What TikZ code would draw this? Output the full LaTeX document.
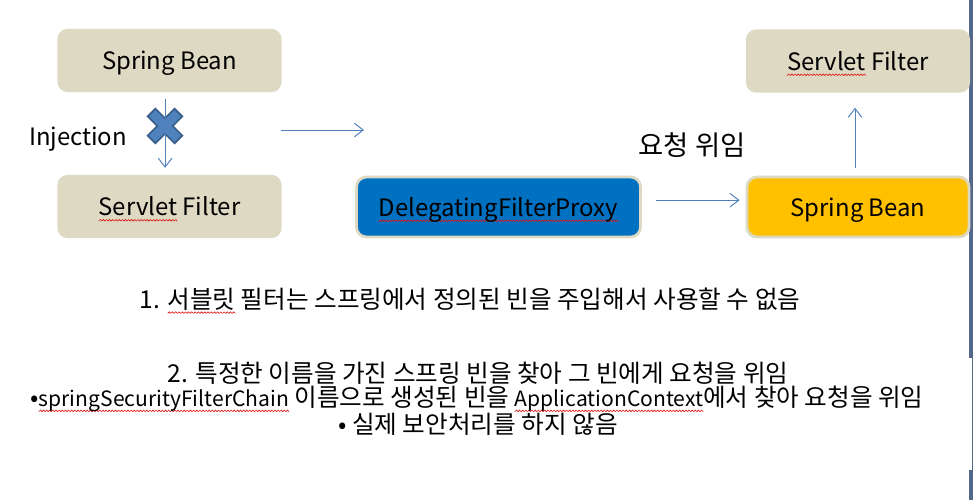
\documentclass[tikz,border=0pt]{standalone}
\usepackage{fontspec}
\setmainfont{Noto Sans CJK KR}
\usepackage{xcolor}
\usepackage{tikz}
\usetikzlibrary{arrows.meta, positioning}

\definecolor{boxtan}{RGB}{221,217,195}
\definecolor{proxyblue}{RGB}{0,112,192}
\definecolor{beanamber}{RGB}{255,192,0}
\definecolor{arrowblue}{RGB}{79,129,189}
\definecolor{crossblue}{RGB}{79,129,189}
\definecolor{crossedge}{RGB}{56,93,138}
\definecolor{edgebar}{RGB}{84,104,138}
\definecolor{spellred}{RGB}{220,20,20}

% red wavy mark under a word
\newsavebox\wavebox
\newsavebox\spellword
\newcommand\spellmark[1]{\sbox\spellword{#1}%
  \rlap{\raisebox{-3.6pt}[0pt][0pt]{\hbox to\wd\spellword{\xleaders\copy\wavebox\hfill}}}%
  \usebox\spellword}
% latin words inside the korean notes
\newcommand\latword[1]{{\fontsize{15}{18}\selectfont #1}}

\begin{document}
\sbox\wavebox{\begin{pgfpicture}
  \pgfpathrectanglecorners{\pgfpointorigin}{\pgfpoint{2.2pt}{1.1pt}}
  \pgfusepath{use as bounding box}
  \pgfsetstrokecolor{spellred}\pgfsetlinewidth{0.45pt}
  \pgfpathmoveto{\pgfpointorigin}
  \pgfpathlineto{\pgfpoint{1.1pt}{1.1pt}}
  \pgfpathlineto{\pgfpoint{2.2pt}{0pt}}
  \pgfusepath{stroke}
\end{pgfpicture}}%
\begin{tikzpicture}[x=0.025cm, y=-0.025cm,
    comp/.style={rectangle, rounded corners=0.25cm, fill=boxtan, minimum width=5.6cm,
                 minimum height=1.58cm, font=\fontsize{17}{21}\selectfont, inner sep=0pt,
                 text height=1.4em, text depth=0.05em},
    framed/.style={comp, draw=boxtan, line width=2pt, minimum width=5.55cm, minimum height=1.5cm},
    arr/.style={-{Straight Barb[length=2.2mm, width=3.4mm]}, draw=arrowblue, line width=0.7pt},
    note/.style={font=\fontsize{17.5}{21}\selectfont, inner sep=0pt}
]
\useasboundingbox (0,0) rectangle (973,500);

% side bar of the window
\fill[edgebar] (969,0) rectangle (973,358);
\fill[edgebar] (971.5,358) rectangle (973,470);
\fill[edgebar] (969,470) rectangle (973,500);

\node[comp] (bean1)   at (169.5,60.5)  {Spring Bean};
\node[comp] (filter1) at (169.5,206.5) {\spellmark{Servlet} Filter};
\node[framed, fill=proxyblue, minimum width=7.1cm] (proxy) at (498.5,207) {\spellmark{DelegatingFilterProxy}};
\node[framed, fill=beanamber] (bean2) at (858,207)  {Spring Bean};
\node[comp] (filter2) at (858,61)    {\spellmark{Servlet} Filter};

\node[font=\fontsize{17}{21}\selectfont] (inj) at (78,139) {Injection};
\node[font=\fontsize{19.5}{23}\selectfont] (deleg) at (692,145) {요청 위임};

% blocked injection
\begin{scope}[shift={(165,126)}, rotate=45]
  \filldraw[fill=crossblue, draw=crossedge, line width=1.2pt]
    (-5.5,-19) -- (5.5,-19) -- (5.5,-5.5) -- (19,-5.5) -- (19,5.5) -- (5.5,5.5)
    -- (5.5,19) -- (-5.5,19) -- (-5.5,5.5) -- (-19,5.5) -- (-19,-5.5) -- (-5.5,-5.5) -- cycle;
\end{scope}

\coordinate (gofrom) at (281,130);
\coordinate (goto)   at (364,130);

\draw[arr] ([xshift=-0.11cm, yshift=-0.17cm]bean1.south) -- ([xshift=-0.11cm, yshift=0.17cm]filter1.north);
\draw[arr] (gofrom) -- (goto);
\draw[arr] ([xshift=0.35cm, yshift=0.17cm]proxy.east) -- ([xshift=-0.15cm, yshift=0.17cm]bean2.west);
\draw[arr] ([xshift=-0.075cm, yshift=0.2cm]bean2.north) -- ([xshift=-0.075cm, yshift=-0.37cm]filter2.south);

\node[note] (line1) at (470,299) {1. \spellmark{서블릿} 필터는 스프링에서 정의된 빈을 주입해서 사용할 수 없음};
\node[note] (line2) at (478,373) {2. 특정한 이름을 가진 스프링 빈을 찾아 그 빈에게 요청을 위임};
\node[note] (line3) at (477,399) {•\spellmark{\latword{springSecurityFilterChain}} 이름으로 생성된 빈을 \spellmark{\latword{ApplicationContext}}에서 찾아 요청을 위임};
\node[note] (line4) at (478,424) {• 실제 보안처리를 하지 않음};
\end{tikzpicture}
\end{document}
